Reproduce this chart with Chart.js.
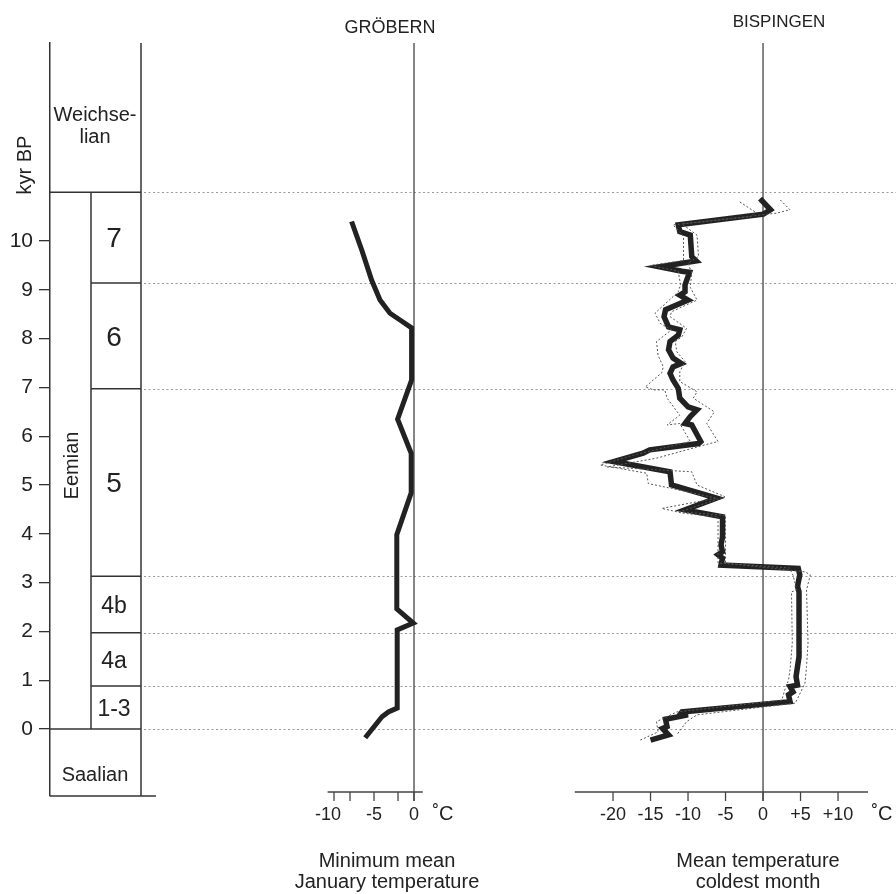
<!DOCTYPE html>
<html>
<head>
<meta charset="utf-8">
<script src="https://cdn.jsdelivr.net/npm/chart.js@4.4.0/dist/chart.umd.min.js"></script>
<style>
  html, body { margin: 0; padding: 0; background: #fff; }
  canvas { display: block; }
</style>
</head>
<body>
<canvas id="canvas" width="896" height="894"></canvas>
<script>
// --- data (kyr BP on the vertical, temperature in °C on the horizontal) ---
var kyrTicks = [0, 1, 2, 3, 4, 5, 6, 7, 8, 9, 10];

var zoneEdges = [11, 9.14, 6.97, 3.13, 1.97, 0.88, 0];
var zoneLabels = ['7', '6', '5', '4b', '4a', '1-3'];
var dottedLevels = [11, 9.14, 6.97, 3.13, 1.97, 0.88, 0];

var grobernKyr = [10.40, 9.80, 9.20, 8.79, 8.52, 8.38, 8.22, 7.15, 6.35, 5.65, 4.84, 3.98, 2.46, 2.17, 2.03, 0.43, 0.35, 0.25, -0.18];
var grobernTemp = [-7.8, -6.5, -5.3, -4.25, -3.0, -1.75, -0.3, -0.3, -2.05, -0.35, -0.35, -2.15, -2.15, -0.1, -2.1, -2.1, -3.2, -4.0, -6.1];

var bispKyr = [10.87, 10.64, 10.55, 10.33, 10.19, 10.12, 9.68, 9.59, 9.47, 9.38, 9.36, 9.10, 8.96, 8.89, 8.79, 8.59, 8.45, 8.24, 8.18, 8.07,
    7.94, 7.77, 7.60, 7.49, 7.42, 7.29, 7.15, 6.98, 6.78, 6.60, 6.54, 6.40, 6.26, 6.23, 5.89, 5.85, 5.72, 5.65, 5.48, 5.27,
    5.00, 4.73, 4.49, 4.35, 3.94, 3.77, 3.63, 3.57, 3.50, 3.36, 3.29, 3.16, 2.92, 2.81, 1.48, 1.28, 1.07, 0.90, 0.87, 0.76,
    0.70, 0.56, 0.35, 0.29, 0.29, 0.20, 0.05, 0.01, -0.12, -0.23];
var bispTemp = [-0.4, 1.0, 0.05, -11.3, -11.1, -9.7, -9.5, -8.9, -13.8, -10.8, -9.8, -10.4, -10.4, -11.1, -10.0, -13.0, -13.2, -12.6, -11.1, -11.3,
    -12.4, -12.6, -12.0, -10.9, -12.0, -12.4, -12.0, -11.3, -11.1, -10.0, -8.8, -9.7, -10.4, -9.5, -8.3, -8.6, -15.1, -16.0, -19.9, -12.4,
    -12.2, -6.2, -10.4, -5.4, -5.4, -5.6, -5.4, -6.0, -5.4, -5.6, 4.7, 4.9, 4.6, 4.8, 4.8, 4.6, 4.4, 4.6, 3.6, 4.0,
    3.4, 3.6, -10.8, -11.1, -10.0, -13.0, -12.8, -13.4, -12.6, -15.0];

var bispLowKyr = [10.80, 10.60, 10.50, 10.33, 10.10, 9.60, 9.50, 9.38, 9.10, 8.96, 8.52, 8.31, 8.18, 7.94, 7.66, 7.42, 7.30, 7.01, 6.95, 6.95,
    6.78, 6.43, 6.23, 6.26, 5.89, 5.61, 5.41, 5.24, 5.03, 4.93, 4.73, 4.52, 4.42, 4.35, 3.40, 3.30, 3.15, 2.85, 2.81, 1.76,
    1.21, 1.00, 0.80, 0.59, 0.35, 0.15, -0.06, -0.23];
var bispLowTemp = [-3.1, -1.1, -1.5, -12.0, -10.6, -10.6, -15.0, -11.3, -11.0, -11.3, -14.4, -13.7, -12.2, -14.2, -14.0, -13.3, -13.5, -15.7, -14.6, -13.1,
    -12.8, -11.1, -12.8, -11.1, -9.7, -17.3, -21.7, -15.5, -15.3, -12.2, -6.2, -13.5, -10.6, -6.0, -6.0, 3.5, 4.0, 4.5, 3.8, 3.9,
    3.6, 3.4, 2.9, 2.5, -11.5, -14.2, -14.0, -16.4];

var bispHighKyr = [10.84, 10.64, 10.57, 10.35, 10.12, 9.68, 9.55, 9.34, 9.05, 8.79, 8.55, 8.45, 8.21, 8.04, 7.94, 7.73, 7.53, 7.32, 7.12, 6.91,
    6.78, 6.50, 6.26, 5.89, 5.85, 5.55, 5.37, 5.27, 5.00, 4.76, 4.45, 4.38, 3.40, 3.22, 3.16, 2.85, 1.76, 1.28, 0.94, 0.53,
    0.29, 0.15, -0.12];
var bispHighTemp = [2.3, 3.6, 1.8, -10.8, -8.8, -8.6, -10.0, -9.5, -9.7, -8.8, -12.2, -12.4, -10.2, -10.8, -11.7, -11.5, -10.4, -11.1, -11.1, -8.8,
    -9.3, -6.5, -7.5, -6.0, -7.1, -14.2, -20.8, -9.5, -8.8, -5.1, -11.1, -5.0, -5.0, 5.6, 6.3, 5.8, 6.0, 5.8, 5.6, 4.3,
    -8.8, -10.2, -11.5];

var grobernTicks = [-10, -8, -5, -2, 0];
var grobernTickLabels = ['-10', '', '-5', '', '0'];
var bispTicks = [-20, -15, -10, -5, 0, 5, 10];
var bispTickLabels = ['-20', '-15', '-10', '-5', '0', '+5', '+10'];

function pts(xs, ys) {
    return xs.map(function(t, i) { return { x: t, y: ys[i] }; });
}

var FONT = '"Liberation Sans", Arial, Helvetica, sans-serif';
var INK = '#222';

function text(ctx, str, x, y, size, rot) {
    ctx.save();
    ctx.font = size + 'px ' + FONT;
    ctx.fillStyle = INK;
    ctx.textAlign = 'center';
    ctx.textBaseline = 'middle';
    ctx.translate(x, y);
    if (rot) ctx.rotate(rot);
    ctx.fillText(str, 0, 0);
    ctx.restore();
}

function seg(ctx, x1, y1, x2, y2) {
    ctx.beginPath();
    ctx.moveTo(x1, y1);
    ctx.lineTo(x2, y2);
    ctx.stroke();
}

var axisY = 792;

var stratPlugin = {
    id: 'strat',
    beforeDatasetsDraw: function(chart) {
        var ctx = chart.ctx, y = chart.scales.y;
        var xG = chart.scales.xG, xB = chart.scales.xB;
        var top = chart.chartArea.top, bottom = chart.chartArea.bottom;

        // dotted zone boundaries
        ctx.save();
        ctx.strokeStyle = '#9a9a9a';
        ctx.lineWidth = 1;
        ctx.setLineDash([2, 2.5]);
        dottedLevels.forEach(function(v) {
            var py = Math.round(y.getPixelForValue(v)) + 0.5;
            seg(ctx, 144, py, 896, py);
        });
        ctx.restore();

        // zero lines of the two panels
        ctx.save();
        ctx.strokeStyle = '#444';
        ctx.lineWidth = 1.3;
        [xG, xB].forEach(function(sc) {
            var px = sc.getPixelForValue(0);
            seg(ctx, px, top, px, axisY + 9);
        });
        ctx.restore();

        // stratigraphic column
        var cl = 50, cm = 91, cr = 141;
        ctx.save();
        ctx.strokeStyle = '#333';
        ctx.lineWidth = 1.5;
        seg(ctx, cr, top, cr, bottom);
        seg(ctx, cl, bottom, 156, bottom);
        var yTopE = y.getPixelForValue(zoneEdges[0]);
        var yZero = y.getPixelForValue(0);
        seg(ctx, cl, yTopE, cr, yTopE);
        seg(ctx, cl, yZero, cr, yZero);
        seg(ctx, cm, yTopE, cm, yZero);
        for (var i = 1; i < zoneEdges.length - 1; i++) {
            var py = y.getPixelForValue(zoneEdges[i]);
            seg(ctx, cm, py, cr, py);
        }
        ctx.restore();

        for (var j = 0; j < zoneLabels.length; j++) {
            var mid = (zoneEdges[j] + zoneEdges[j + 1]) / 2;
            var size = zoneLabels[j].length > 1 ? 23 : 28;
            text(ctx, zoneLabels[j], 114, y.getPixelForValue(mid) + 2, size);
        }
        text(ctx, 'Weichse-', 95, 115, 20);
        text(ctx, 'lian', 95, 137, 20);
        text(ctx, 'Eemian', 72, y.getPixelForValue(5.4), 20, -Math.PI / 2);
        text(ctx, 'Saalian', 95, 775, 20);
        text(ctx, 'kyr BP', 25, 165, 20, -Math.PI / 2);

        // horizontal axes of both panels
        function drawAxis(sc, lo, hi, ticks, labels, unitX) {
            ctx.save();
            ctx.strokeStyle = '#444';
            ctx.lineWidth = 1.3;
            seg(ctx, sc.getPixelForValue(lo), axisY, sc.getPixelForValue(hi), axisY);
            ticks.forEach(function(t, k) {
                var px = sc.getPixelForValue(t);
                seg(ctx, px, axisY, px, axisY + 9);
                if (labels[k]) {
                    var shift = labels[k] === '-10' && sc.id === 'xG' ? -6 : 0;
                    text(ctx, labels[k], px + shift, 815, 18);
                }
            });
            ctx.restore();
            text(ctx, '\u02DAC', unitX, 814, 20);
        }
        drawAxis(xG, -10.8, 1.1, grobernTicks, grobernTickLabels, 443);
        drawAxis(xB, -25.1, 14, bispTicks, bispTickLabels, 882);

        text(ctx, 'GR\u00D6BERN', 390, 28, 18);
        text(ctx, 'BISPINGEN', 779, 22, 17);
        text(ctx, 'Minimum mean', 387, 861, 20);
        text(ctx, 'January temperature', 387, 882, 20);
        text(ctx, 'Mean temperature', 758, 861, 20);
        text(ctx, 'coldest month', 758, 882, 20);
    }
};

var lineStyle = { showLine: true, pointRadius: 0, borderColor: INK, fill: false, tension: 0 };

var config = {
    type: 'scatter',
    data: {
        datasets: [
            Object.assign({ label: 'Gröbern', data: pts(grobernTemp, grobernKyr), xAxisID: 'xG', borderWidth: 5 }, lineStyle),
            Object.assign({ label: 'Bispingen low', data: pts(bispLowTemp, bispLowKyr), xAxisID: 'xB', borderWidth: 1, borderDash: [2, 2] }, lineStyle, { borderColor: '#555' }),
            Object.assign({ label: 'Bispingen high', data: pts(bispHighTemp, bispHighKyr), xAxisID: 'xB', borderWidth: 1, borderDash: [2, 2] }, lineStyle, { borderColor: '#555' }),
            Object.assign({ label: 'Bispingen', data: pts(bispTemp, bispKyr), xAxisID: 'xB', borderWidth: 5.5 }, lineStyle)
        ]
    },
    options: {
        responsive: false,
        animation: false,
        layout: { padding: { top: 43, bottom: 98, left: 0, right: 0 } },
        plugins: { legend: { display: false }, tooltip: { enabled: false } },
        scales: {
            xG: { type: 'linear', display: false, min: -45.5, max: 60.25 },
            xB: { type: 'linear', display: false, min: -95.07, max: 17.73 },
            y: {
                type: 'linear',
                position: 'left',
                min: -1.373,
                max: 14.057,
                afterFit: function(s) { s.width = 50; },
                afterBuildTicks: function(s) { s.ticks = kyrTicks.map(function(v) { return { value: v }; }); },
                grid: { drawOnChartArea: false, drawTicks: true, tickLength: 11, color: '#333', lineWidth: 1.3 },
                border: { display: true, color: '#333', width: 1.5 },
                ticks: { color: INK, padding: 6, font: { size: 21, family: FONT } }
            }
        }
    },
    plugins: [stratPlugin]
};

window.onload = function() {
    var ctx = document.getElementById('canvas').getContext('2d');
    new Chart(ctx, config);
};
</script>
</body>
</html>
